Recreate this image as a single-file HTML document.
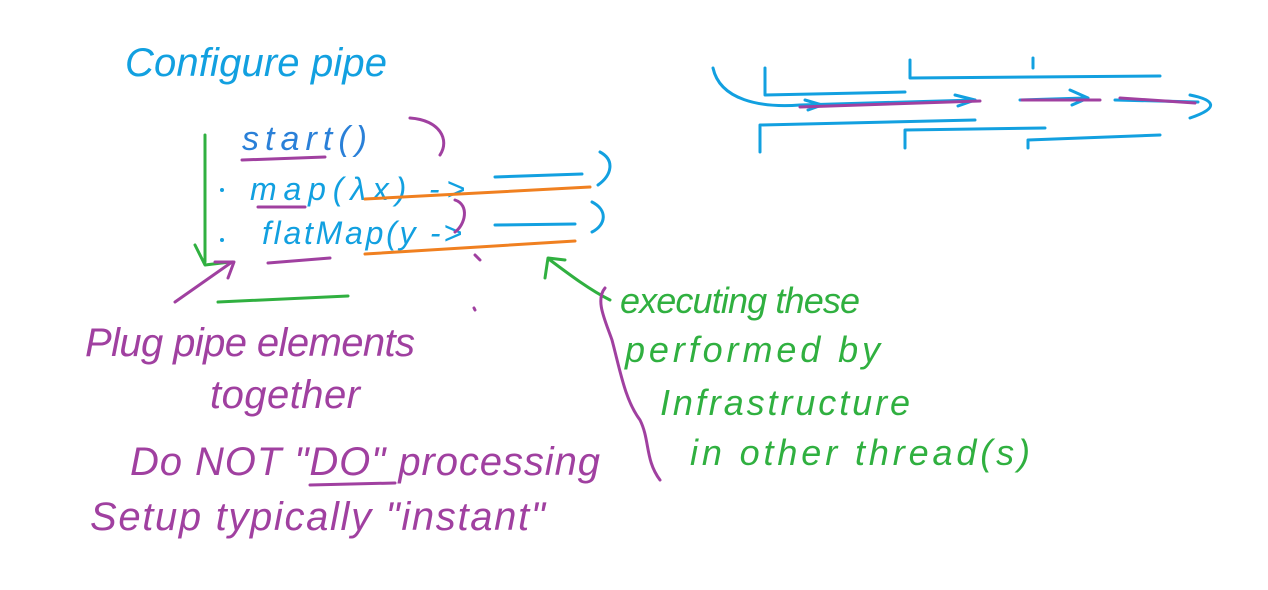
<!DOCTYPE html>
<html><head><meta charset="utf-8"><style>
html,body{margin:0;padding:0;background:#fff;width:1268px;height:590px;overflow:hidden}
svg{display:block}
text{font-family:"Liberation Sans",sans-serif}
</style></head><body>
<svg width="1268" height="590" viewBox="0 0 1268 590" xmlns="http://www.w3.org/2000/svg" fill="none" stroke-linecap="round" stroke-linejoin="round">
<text x="125" y="76" font-size="40" fill="#12a0e0" stroke="none" font-style="italic" textLength="262">Configure pipe</text>
<text x="242" y="150" font-size="34" fill="#2a80d8" stroke="none" font-style="italic" textLength="125">start()</text>
<path d="M242 160 L325 157" stroke="#a040a0" stroke-width="3"/>
<text x="250" y="200" font-size="32" fill="#12a0e0" stroke="none" font-style="italic" textLength="215">map(λx) -&gt;</text>
<text x="262" y="244" font-size="32" fill="#12a0e0" stroke="none" font-style="italic" textLength="200">flatMap(y -&gt;</text>
<path d="M258 207 L305 207" stroke="#a040a0" stroke-width="3"/>
<path d="M268 263 L330 258" stroke="#a040a0" stroke-width="3"/>
<path d="M410 118 C440 120 450 140 440 155" stroke="#a040a0" stroke-width="3"/>
<path d="M455 200 C470 205 465 225 455 232" stroke="#a040a0" stroke-width="3"/>
<path d="M205 135 L205 262 M195 245 L205 265 L230 262" stroke="#30b040" stroke-width="3"/>
<circle cx="222" cy="190" r="2" fill="#12a0e0" stroke="none"/>
<circle cx="222" cy="240" r="2" fill="#12a0e0" stroke="none"/>
<path d="M495 177 L582 174 M600 152 C615 160 612 175 598 185" stroke="#12a0e0" stroke-width="3"/>
<path d="M495 225 L575 224 M592 202 C608 210 606 225 592 232" stroke="#12a0e0" stroke-width="3"/>
<path d="M365 199 L590 187" stroke="#f08020" stroke-width="3"/>
<path d="M365 254 L575 241" stroke="#f08020" stroke-width="3"/>
<path d="M218 302 L348 296" stroke="#30b040" stroke-width="3"/>
<path d="M175 302 L232 262 M215 262 L234 262 L228 278" stroke="#a040a0" stroke-width="3"/>
<path d="M475 255 L480 260 M474 308 L475 310" stroke="#a040a0" stroke-width="3"/>
<text x="85" y="356" font-size="40" fill="#a040a0" stroke="none" font-style="italic" textLength="330">Plug pipe elements</text>
<text x="210" y="408" font-size="40" fill="#a040a0" stroke="none" font-style="italic" textLength="150">together</text>
<text x="130" y="475" font-size="40" fill="#a040a0" stroke="none" font-style="italic" textLength="470">Do NOT "DO" processing</text>
<path d="M310 485 L395 483" stroke="#a040a0" stroke-width="3"/>
<text x="90" y="530" font-size="40" fill="#a040a0" stroke="none" font-style="italic" textLength="455">Setup typically "instant"</text>
<text x="620" y="313" font-size="36" fill="#30b040" stroke="none" font-style="italic" textLength="240">executing these</text>
<text x="625" y="362" font-size="36" fill="#30b040" stroke="none" font-style="italic" textLength="255">performed by</text>
<text x="660" y="415" font-size="36" fill="#30b040" stroke="none" font-style="italic" textLength="250">Infrastructure</text>
<text x="690" y="465" font-size="36" fill="#30b040" stroke="none" font-style="italic" textLength="340">in other thread(s)</text>
<path d="M610 300 C590 290 570 275 550 260 M545 278 L548 258 L565 260" stroke="#30b040" stroke-width="3"/>
<path d="M605 288 C595 300 605 320 612 340 C620 370 625 400 640 420 C650 440 645 460 660 480" stroke="#a040a0" stroke-width="3"/>
<g stroke="#12a0e0" stroke-width="3">
<path d="M713 68 C720 100 760 108 800 105 L975 100"/>
<path d="M765 68 L765 95 L905 92"/>
<path d="M910 60 L910 78 L1160 76"/>
<path d="M1033 58 L1033 68"/>
<path d="M760 125 L760 152 M760 125 L975 120"/>
<path d="M905 148 L905 130 L1045 128"/>
<path d="M1028 148 L1028 140 L1160 135"/>
<path d="M1190 95 C1215 100 1220 108 1190 118"/>
<path d="M1020 100 L1085 98 M1070 90 L1088 98 L1072 105"/>
<path d="M1115 100 L1198 102"/>
<path d="M955 95 L975 100 L958 106"/>
<path d="M805 100 L822 105 L808 110"/>
</g>
<g stroke="#a040a0" stroke-width="3">
<path d="M800 107 L980 101"/>
<path d="M1022 100 L1100 100"/>
<path d="M1120 98 L1195 103"/>
</g>
</svg>
</body></html>
